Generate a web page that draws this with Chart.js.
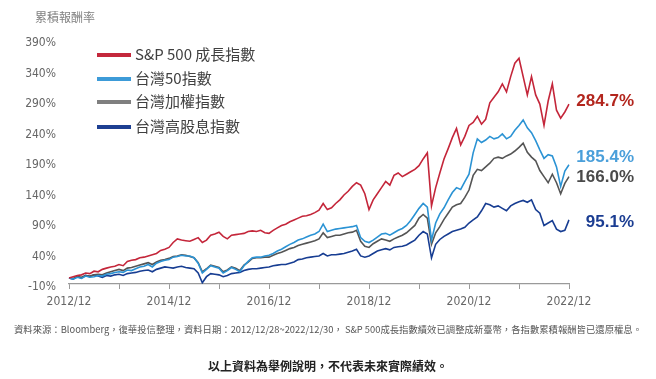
<!DOCTYPE html>
<html>
<head>
<meta charset="utf-8">
<script src="https://cdn.jsdelivr.net/npm/chart.js@4.4.0/dist/chart.umd.min.js"></script>
<style>
  body { margin: 0; background: #fff; }
  #wrap { position: relative; width: 656px; height: 379px; overflow: hidden;
          font-family: "Noto Sans CJK TC", "Noto Sans", sans-serif; }
  #c { position: absolute; left: 0; top: 0; }
  .ttl { position: absolute; left: 35px; top: 8px; font-size: 12px; color: #808080; }
  .lg { position: absolute; left: 97px; font-size: 15px; color: #404040; line-height: 18px; white-space: nowrap; }
  .lg i { display: inline-block; width: 34px; height: 4px; vertical-align: middle; margin-right: 4px; position: relative; top: -1px; }
  .note { position: absolute; left: 0; width: 656px; text-align: center; white-space: nowrap; }
</style>
</head>
<body>
<div id="wrap">
  <canvas id="c" width="656" height="379"></canvas>
  <div class="ttl">累積報酬率</div>
  <div class="lg" style="top:45px"><i style="background:#c4283c"></i>S&amp;P 500 成長指數</div>
  <div class="lg" style="top:69px"><i style="background:#3d9bd8"></i>台灣50指數</div>
  <div class="lg" style="top:92px"><i style="background:#7f7f7f"></i>台灣加權指數</div>
  <div class="lg" style="top:117px"><i style="background:#1d3f92"></i>台灣高股息指數</div>
  <div class="note" style="top:322px;font-size:9.35px;color:#555">資料來源：Bloomberg，復華投信整理，資料日期：2012/12/28~2022/12/30， S&amp;P 500成長指數績效已調整成新臺幣，各指數累積報酬皆已還原權息。</div>
  <div class="note" style="top:357px;font-size:12px;font-weight:bold;color:#222">以上資料為舉例說明，不代表未來實際績效。</div>
</div>
<script>
// monthly labels 2012/12 .. 2022/12
var months = [];
for (var i = 0; i <= 120; i++) {
  var m = (11 + i) % 12 + 1, y = 2012 + Math.floor((11 + i) / 12);
  months.push(y + '/' + (m < 10 ? '0' + m : m));
}

var seriesNames = ['S&P 500 成長指數', '台灣50指數', '台灣加權指數', '台灣高股息指數'];
var endLabels = ['284.7%', '185.4%', '166.0%', '95.1%'];
var yTicks = [-10, 40, 90, 140, 190, 240, 290, 340, 390];

var spGrowth = [0,2,4,5,8,7,11,10,14,16,18,19,22,
  20,27,29,30,33,34,36,38,40,45,47,50,
  58,64,62,61,60,63,66,58,62,70,72,75,
  68,64,70,71,72,73,76,77,76,78,74,73,
  78,82,86,88,92,95,98,101,102,104,107,111,
  122,112,115,122,128,136,142,150,156,152,138,112,
  128,138,148,158,152,168,172,166,170,174,178,184,
  195,205,118,148,172,195,212,230,245,218,232,250,
  255,265,252,260,287,296,305,318,305,330,352,360,
  330,300,330,300,285,250,290,318,275,262,272,284.7];

var tw50 = [0,-2,1,-1,3,1,2,4,3,6,7,9,10,
  9,13,12,15,18,19,22,18,24,27,29,30,
  34,35,37,36,36,33,24,8,14,20,18,16,
  8,12,17,14,10,20,27,33,34,34,36,37,
  40,44,47,51,55,58,62,64,67,70,72,76,
  88,76,78,80,81,82,83,84,86,66,60,58,
  62,67,72,73,70,74,78,81,86,94,104,114,
  122,116,62,90,105,115,128,140,148,145,158,170,
  205,228,222,226,232,228,230,236,228,232,242,250,
  259,246,238,225,210,196,202,200,182,150,175,185.4];

var taiex = [0,-1,2,1,4,3,5,6,5,8,10,12,14,
  12,16,17,19,21,23,25,22,26,29,30,32,
  35,36,38,37,35,33,25,10,15,21,19,17,
  10,13,18,16,12,21,26,32,33,33,34,34,
  37,40,42,45,48,50,53,55,57,59,61,64,
  74,66,68,70,70,72,74,75,78,60,52,50,
  56,60,64,62,60,64,67,70,74,80,86,98,
  104,98,55,74,84,96,106,116,120,122,132,144,
  168,178,176,182,188,196,198,196,200,203,208,214,
  221,206,198,192,176,166,156,170,156,138,155,166];

var twDividend = [0,-2,2,0,4,2,5,3,1,4,3,5,6,
  4,7,8,9,11,12,13,10,14,16,18,17,
  16,18,19,17,16,15,8,-8,2,7,6,5,
  2,4,7,8,9,12,14,15,15,16,17,18,
  20,21,22,22,24,26,30,31,33,34,35,36,
  40,36,38,38,39,40,42,44,47,36,34,36,
  40,44,46,48,46,50,51,52,54,58,62,70,
  76,72,33,55,63,68,72,76,78,80,83,90,
  95,100,110,122,120,116,118,114,110,118,122,125,
  127,124,128,112,106,86,90,94,80,76,78,95.1];

var lineColors = ['#c4263a', '#2b93d4', '#555555', '#173d92'];
var labelColors = ['#b3261e', '#4a9fda', '#4a4a4a', '#1b3d92'];
var labelShift = [-3, -7, 1, 2];

var tickFont = { family: "'Liberation Sans Narrow', 'DejaVu Sans Condensed', sans-serif", size: 12 };

var endLabelPlugin = {
  id: 'endLabels',
  afterDatasetsDraw: function(chart) {
    var ctx = chart.ctx;
    ctx.save();
    ctx.font = "bold 17px 'Liberation Sans', sans-serif";
    ctx.textAlign = 'right';
    ctx.textBaseline = 'middle';
    chart.data.datasets.forEach(function(ds, k) {
      var pts = chart.getDatasetMeta(k).data;
      var last = pts[pts.length - 1];
      ctx.fillStyle = labelColors[k];
      ctx.fillText(endLabels[k], 634, last.y + labelShift[k]);
    });
    ctx.restore();
  }
};

var allSeries = [spGrowth, tw50, taiex, twDividend];

new Chart(document.getElementById('c'), {
  type: 'line',
  data: {
    labels: months,
    datasets: allSeries.map(function(s, k) {
      return {
        label: seriesNames[k],
        data: s,
        borderColor: lineColors[k],
        borderWidth: 1.6,
        pointRadius: 0,
        tension: 0,
        fill: false
      };
    })
  },
  options: {
    responsive: false,
    animation: false,
    layout: { padding: { top: 40, right: 87, left: 0, bottom: 0 } },
    plugins: { legend: { display: false }, tooltip: { enabled: false } },
    scales: {
      x: {
        type: 'category',
        offset: false,
        grid: {
          drawOnChartArea: false,
          drawTicks: true,
          tickLength: 5,
          tickColor: function(c) { return c.index % 12 === 0 ? '#9a9a9a' : 'rgba(0,0,0,0)'; }
        },
        border: { display: true, color: '#9a9a9a', width: 1.2 },
        ticks: {
          autoSkip: false,
          maxRotation: 0,
          padding: 6,
          color: '#666',
          font: tickFont,
          callback: function(v, i) { return i % 24 === 0 ? months[i] : ''; }
        },
        afterFit: function(s) { s.height = 95; }
      },
      y: {
        min: -10,
        max: 390,
        afterBuildTicks: function(s) { s.ticks = yTicks.map(function(v) { return { value: v }; }); },
        grid: { display: false },
        border: { display: false },
        ticks: {
          color: '#666',
          font: tickFont,
          padding: 5,
          labelOffset: 3,
          callback: function(v) { return v + '%'; }
        },
        afterFit: function(s) { s.width = 69; }
      }
    }
  },
  plugins: [endLabelPlugin]
});
</script>
</body>
</html>
